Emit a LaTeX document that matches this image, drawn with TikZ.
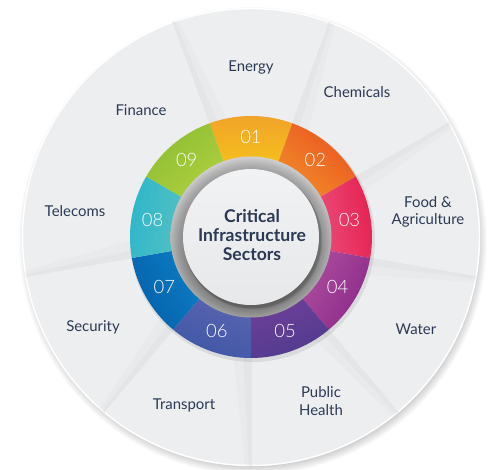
\documentclass[tikz,border=0pt]{standalone}
\usepackage{fontspec}
\setmainfont{Lato}
\newfontfamily\numfont{Lato Light}
\usepackage{tikz}
\usetikzlibrary{positioning}

\definecolor{labeltext}{HTML}{2B3954}
\definecolor{wedgefill}{HTML}{EDEEEF}
\definecolor{centretop}{HTML}{F1F2F3}
\definecolor{centrebot}{HTML}{E7E8EA}
\definecolor{segout1}{HTML}{F0A22A}
\definecolor{segin1}{HTML}{F6BE1E}
\definecolor{segout2}{HTML}{EA5520}
\definecolor{segin2}{HTML}{F18A2A}
\definecolor{segout3}{HTML}{E61F4F}
\definecolor{segin3}{HTML}{EA4A77}
\definecolor{segout4}{HTML}{8B2A89}
\definecolor{segin4}{HTML}{AC4C9D}
\definecolor{segout5}{HTML}{4F3B8E}
\definecolor{segin5}{HTML}{6E3F98}
\definecolor{segout6}{HTML}{3E57A6}
\definecolor{segin6}{HTML}{5A64AF}
\definecolor{segout7}{HTML}{0460AB}
\definecolor{segin7}{HTML}{0C7CC2}
\definecolor{segout8}{HTML}{2DB6CB}
\definecolor{segin8}{HTML}{52C0C2}
\definecolor{segout9}{HTML}{8DBE33}
\definecolor{segin9}{HTML}{AECF3E}

\pgfdeclareradialshading{groove}{\pgfpoint{0bp}{0bp}}{color(0bp)=(black!45); color(21bp)=(black!45); color(23bp)=(black!35); color(25bp)=(black!22); color(50bp)=(black!22)}

\tikzset{sector/.style = {font = \fontsize{8.5}{9.8}\selectfont, text = labeltext, align = center}}
\tikzset{number/.style = {font = \numfont\fontsize{10.5}{10.5}\selectfont, text = white}}
\tikzset{title/.style = {font = \bfseries\fontsize{10}{11}\selectfont, text = labeltext, align = center}}

\begin{document}
\begin{tikzpicture}[x=0.02cm, y=0.02cm]
    \fill[white] (-251, -233) rectangle (240, 237);
    \useasboundingbox (-251, -233) rectangle (240, 237);

    % soft shadow and outer disc
    \foreach \i in {0,...,8}
      \fill[black, opacity=0.02] (2, -4) circle [radius=226+\i];
    \fill[wedgefill] (0, 0) circle [radius=229];
    \draw[white, line width=0.8] (0, 0) circle [radius=228.5];

    % folds between the sectors
    \foreach \b in {110,70,...,-170} {
      \fill[black, opacity=0.015] (\b:115) -- (\b:229) -- (\b-1.5:229) -- (\b-9:115) -- cycle;
      \fill[black, opacity=0.02] (\b:115) -- (\b:229) -- (\b-0.6:229) -- (\b-4:115) -- cycle;
      \draw[black!10, line width=0.3] (\b:115) -- (\b:229);
    }

    % coloured ring
    \fill[black, opacity=0.08] (1.5, -2.5) circle [radius=122.5];
    \foreach \k in {1,...,9} {
      \pgfmathsetmacro{\c}{90-40*(\k-1)}
      \pgfmathsetmacro{\sa}{\c-90}
      \shade[top color=segout\k, bottom color=segin\k, shading angle=\sa]
        (\c+20:121) arc [start angle=\c+20, end angle=\c-20, radius=121]
        -- (\c-20:80) arc [start angle=\c-20, end angle=\c+20, radius=80] -- cycle;
      \node[number] (num\k) at (\c:100) {0\k};
    }

    % groove and centre
    \shade[shading=groove] (0, 0) circle [radius=80.5];
    \shade[top color=white, bottom color=black, opacity=0.2, even odd rule]
      (0, 0) circle [radius=80.5] (0, 0) circle [radius=68];
    \fill[black, opacity=0.12] (1.5, -2.5) circle [radius=69];
    \fill[black, opacity=0.08] (2.5, -3.5) circle [radius=69];
    \shade[top color=centretop, bottom color=centrebot] (0, 0) circle [radius=68];
    \node[title] (title) at (1, 2) {Critical\\Infrastructure\\Sectors};

    % sector names
    \foreach \k/\lx/\ly/\txt in {1/0/169/Energy, 2/106/145/Chemicals,
        3/177/25/{Food \&\\Agriculture}, 4/165/-92/Water, 5/70/-164/{Public\\Health},
        6/-67/-168/Transport, 7/-158/-90/Security, 8/-176/26/Telecoms, 9/-110/127/Finance}
      \node[sector] (sector\k) at (\lx, \ly) {\txt};

\end{tikzpicture}
\end{document}
